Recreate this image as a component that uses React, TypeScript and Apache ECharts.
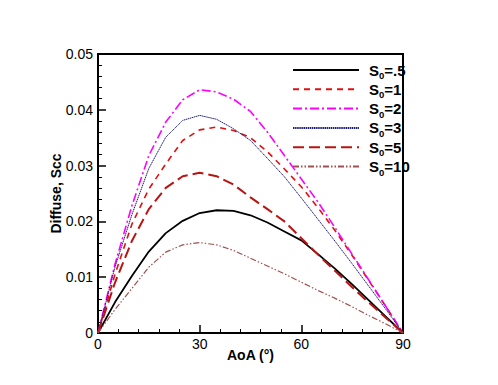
import React, { useEffect, useRef } from "react";
import * as echarts from "echarts";

const aoa = [0, 5, 10, 15, 20, 25, 30, 35, 40, 45, 50, 55, 60, 65, 70, 75, 80, 85, 90];
const s05 = [0, 0.0055, 0.0102, 0.0146, 0.0179, 0.0201, 0.0215, 0.022, 0.0219, 0.0211, 0.0198, 0.0182, 0.0166, 0.0141, 0.0115, 0.0087, 0.0058, 0.0029, 0];
const s1 = [0, 0.0105, 0.0195, 0.0258, 0.0303, 0.0345, 0.0364, 0.0369, 0.0363, 0.035, 0.0325, 0.0294, 0.0262, 0.0224, 0.0183, 0.0139, 0.0093, 0.0047, 0];
const s2 = [0, 0.0123, 0.0228, 0.0318, 0.0378, 0.0418, 0.0436, 0.0432, 0.0419, 0.0397, 0.036, 0.0318, 0.0276, 0.0234, 0.0188, 0.0141, 0.0094, 0.0047, 0];
const s3 = [0, 0.0118, 0.0212, 0.0295, 0.0351, 0.0381, 0.039, 0.0383, 0.0366, 0.0345, 0.0313, 0.028, 0.0242, 0.0203, 0.0164, 0.0124, 0.0083, 0.0042, 0];
const s5 = [0, 0.009, 0.0165, 0.0222, 0.026, 0.0281, 0.0287, 0.0281, 0.0266, 0.0243, 0.0222, 0.02, 0.017, 0.014, 0.0111, 0.0082, 0.0054, 0.0027, 0];
const s10 = [0, 0.0042, 0.008, 0.0118, 0.0145, 0.0158, 0.0162, 0.0158, 0.0148, 0.0134, 0.012, 0.0106, 0.0091, 0.0076, 0.0062, 0.0047, 0.0031, 0.0016, 0];
const legendNames = ["S0=.5", "S0=1", "S0=2", "S0=3", "S0=5", "S0=10"];

const FONT = "Liberation Sans, Arial, sans-serif";

export default function App() {
  const ref = useRef<HTMLDivElement>(null);
  useEffect(() => {
    if (!ref.current) return;
    const chart = echarts.init(ref.current, undefined, { renderer: "svg" });
    const pairs = (ys: number[]) => aoa.map((x, i) => [x, ys[i]]);
    const mk = (name: string, ys: number[], color: string, width: number, type: any) => ({
      name,
      type: "line",
      data: pairs(ys),
      symbol: "none",
      lineStyle: { color, width, type },
      itemStyle: { color },
      z: 3,
    });
    chart.setOption({
      animation: false,
      backgroundColor: "#fff",
      textStyle: { fontFamily: FONT },
      grid: { left: 90, top: 46, width: 305, height: 279, show: true, borderColor: "#000", borderWidth: 2, backgroundColor: "transparent" },
      legend: {
        orient: "vertical",
        left: 279,
        top: 48.5,
        itemWidth: 66,
        itemHeight: 14,
        itemGap: 0.3,
        data: legendNames,
        itemStyle: { opacity: 0 },
        formatter: (n: string) => {
          const v = n.slice(3);
          return "{a|S}{sub|0}{a|=" + v + "}";
        },
        textStyle: {
          padding: [0, 0, 0, 5],
          rich: {
            a: { fontFamily: FONT, fontWeight: "bold", fontSize: 15, color: "#000", lineHeight: 17, verticalAlign: "middle" },
            sub: { fontFamily: FONT, fontWeight: "bold", fontSize: 9.5, color: "#000", lineHeight: 8, padding: [9, 0, 0, 0], verticalAlign: "top" },
          },
        },
      },
      xAxis: {
        type: "value",
        min: 0,
        max: 90,
        interval: 30,
        name: "AoA (°)",
        nameLocation: "middle",
        nameGap: 15,
        nameMoveOverlap: false,
        nameTextStyle: { fontFamily: FONT, fontWeight: "bold", fontSize: 14, color: "#000" },
        axisLine: { show: true, lineStyle: { color: "#000", width: 2 } },
        axisTick: { show: true, inside: true, length: 8, lineStyle: { color: "#000", width: 1.5 } },
        minorTick: { show: true, splitNumber: 5, length: 4, lineStyle: { color: "#000", width: 1 } },
        axisLabel: { margin: 4, fontFamily: FONT, fontSize: 14, color: "#000" },
        splitLine: { show: false },
      },
      yAxis: {
        type: "value",
        min: 0,
        max: 0.05,
        interval: 0.01,
        name: "Diffuse, Scc",
        nameLocation: "middle",
        nameGap: 35,
        nameMoveOverlap: false,
        nameTextStyle: { fontFamily: FONT, fontWeight: "bold", fontSize: 14, color: "#000" },
        axisLine: { show: true, lineStyle: { color: "#000", width: 2 } },
        axisTick: { show: true, inside: true, length: 8, lineStyle: { color: "#000", width: 1.5 } },
        minorTick: { show: true, splitNumber: 5, length: 4, lineStyle: { color: "#000", width: 1 } },
        axisLabel: {
          margin: 5,
          fontFamily: FONT,
          fontSize: 14,
          color: "#000",
          formatter: (v: number) => (v === 0 ? "0" : v.toFixed(2)),
        },
        splitLine: { show: false },
      },
      series: [
        mk(legendNames[0], s05, "#000000", 1.8, "solid"),
        mk(legendNames[1], s1, "#e01010", 1.6, [6, 5]),
        mk(legendNames[2], s2, "#ff00ff", 1.6, [9, 3, 2, 3]),
        mk(legendNames[3], s3, "#1c1c7c", 1, [1.5, 0.6]),
        mk(legendNames[4], s5, "#b81414", 2, [11, 5]),
        mk(legendNames[5], s10, "#a24f4f", 1.2, [6, 2, 1.5, 2, 1.5, 2]),
      ],
    });
    return () => chart.dispose();
  }, []);
  return <div ref={ref} style={{ width: 498, height: 385 }} />;
}
